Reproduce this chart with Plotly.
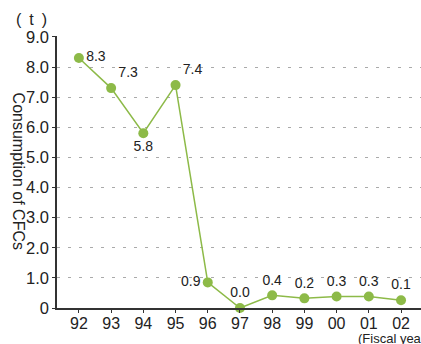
import plotly.graph_objects as go

years = ["92", "93", "94", "95", "96", "97", "98", "99", "00", "01", "02"]
cfc_tonnes = [8.3, 7.3, 5.8, 7.4, 0.85, 0.0, 0.42, 0.32, 0.38, 0.38, 0.26]
value_labels = ["8.3", "7.3", "5.8", "7.4", "0.9", "0.0", "0.4", "0.2", "0.3", "0.3", "0.1"]
label_positions = ["middle right", "top right", "bottom center", "top right", "middle left",
                   "top center", "top center", "top center", "top center", "top center", "top center"]
y_ticks = [0, 1, 2, 3, 4, 5, 6, 7, 8, 9]
y_tick_text = ["0", "1.0", "2.0", "3.0", "4.0", "5.0", "6.0", "7.0", "8.0", "9.0"]

green = "rgb(141,186,72)"
font = "Liberation Sans, Arial, sans-serif"

fig = go.Figure()

fig.add_trace(
    go.Scatter(
        x=years,
        y=cfc_tonnes,
        mode="lines+markers+text",
        line=dict(color=green, width=1.5),
        marker=dict(color=green, size=10),
        text=value_labels,
        textposition=label_positions,
        textfont=dict(family=font, size=14, color="#222"),
        cliponaxis=False,
        showlegend=False,
    )
)

# unit label, axis title and x caption
fig.add_annotation(text="(\u2002t\u2002)", xref="paper", yref="paper", x=-0.07, y=1.06,
                   xanchor="center", yanchor="middle", showarrow=False,
                   font=dict(family=font, size=16, color="#222"))
fig.add_annotation(text="Consumption of CFCs", xref="paper", yref="paper", x=-0.107, y=0.505,
                   xanchor="center", yanchor="middle", textangle=90, showarrow=False,
                   font=dict(family=font, size=16, color="#222"))
fig.add_annotation(text="(Fiscal year)", xref="paper", yref="paper", x=0.821, y=-0.112,
                   xanchor="left", yanchor="middle", showarrow=False,
                   font=dict(family=font, size=13, color="#222"))

fig.update_layout(
    width=421,
    height=344,
    margin=dict(l=57, r=0, t=36, b=36),
    plot_bgcolor="white",
    paper_bgcolor="white",
    font=dict(family=font, size=16, color="#222"),
    xaxis=dict(
        type="category",
        range=[-0.68, 10.62],
        showline=True,
        linecolor="#333",
        linewidth=1.5,
        ticks="outside",
        ticklen=3,
        tickcolor="#333",
        showgrid=False,
        tickfont=dict(size=16),
        ticklabelstandoff=-3,
    ),
    yaxis=dict(
        range=[0, 9.03],
        tickvals=y_ticks,
        ticktext=y_tick_text,
        showline=True,
        linecolor="#333",
        linewidth=1.5,
        ticks="outside",
        ticklen=3,
        tickcolor="#333",
        showgrid=True,
        gridcolor="#aaa",
        griddash="3px,8px",
        gridwidth=1,
        zeroline=False,
        tickfont=dict(size=16.5),
    ),
)

fig.write_html("out.html", config={"displayModeBar": False},
               post_script="document.body.style.margin='0';")
